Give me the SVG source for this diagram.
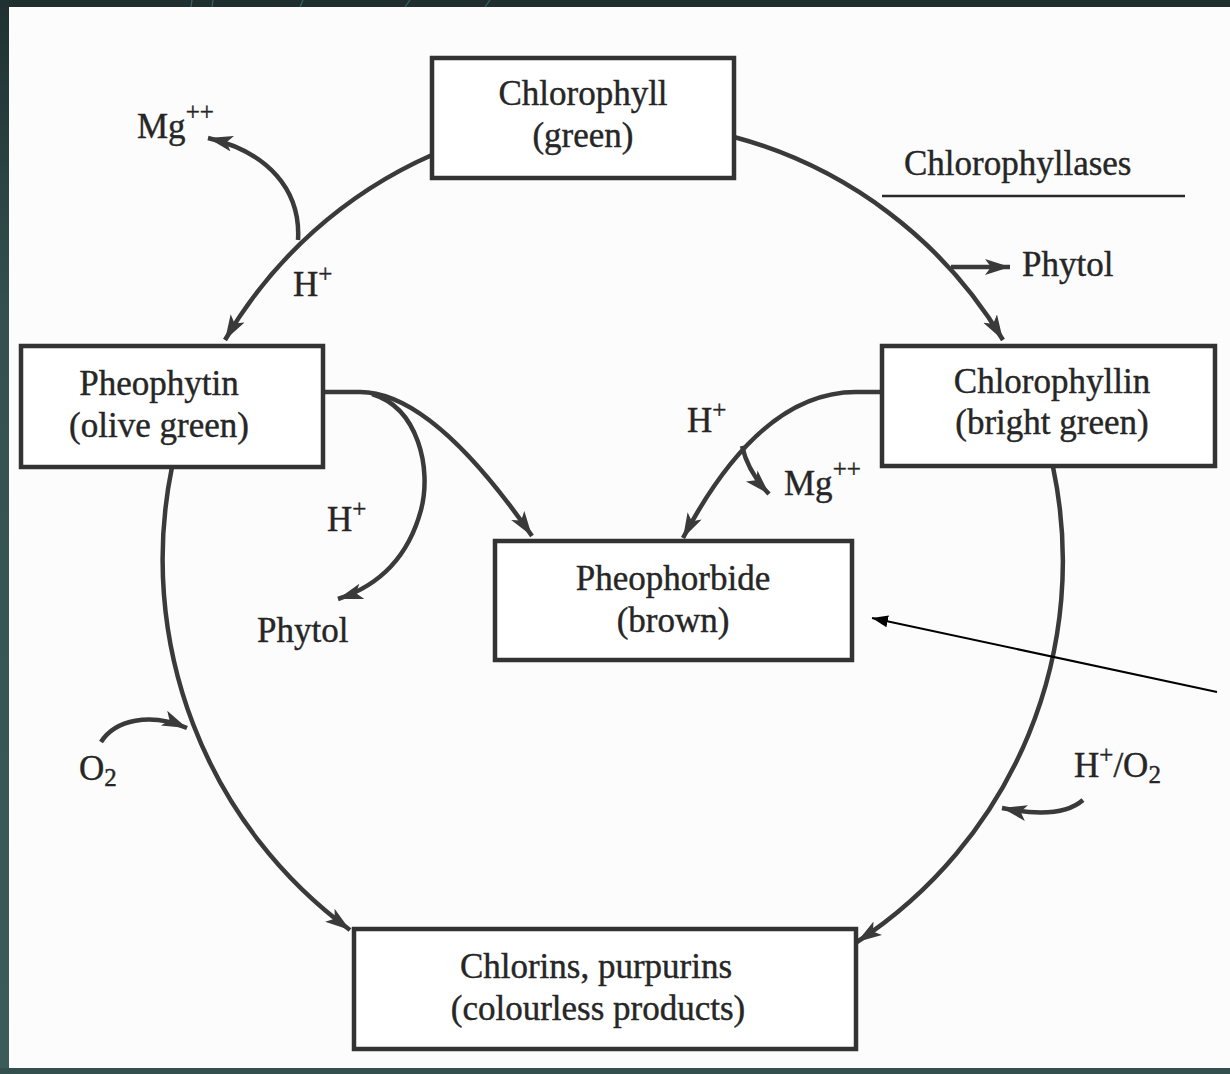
<svg xmlns="http://www.w3.org/2000/svg" width="1230" height="1074" viewBox="0 0 1230 1074">
  <defs>
    <marker id="ah" markerUnits="userSpaceOnUse" markerWidth="28" markerHeight="18" refX="25" refY="8" orient="auto">
      <path d="M0,0 L25,8 L0,16 L6,8 Z" fill="#3a3a3a"/>
    </marker>
    <marker id="ahs" markerUnits="userSpaceOnUse" markerWidth="18" markerHeight="14" refX="16" refY="6" orient="auto">
      <path d="M0,0 L16,6 L0,12 Z" fill="#000"/>
    </marker>
    <linearGradient id="side" x1="0" y1="0" x2="0" y2="1">
      <stop offset="0" stop-color="#1f3132"/>
      <stop offset="0.3" stop-color="#34514f"/>
      <stop offset="1" stop-color="#3b5b5a"/>
    </linearGradient>
    <style>
      .box { fill: #ffffff; stroke: #333333; stroke-width: 4.5; }
      .lbl { font-family: "Liberation Serif", "DejaVu Serif", serif; font-size: 35px; fill: #262626; stroke: #262626; stroke-width: 0.4; }
      .sup { font-size: 25px; }
      .con { fill: none; stroke: #3a3a3a; stroke-width: 4.5; }
      .deco { fill: none; stroke: #3f7f7a; stroke-width: 1.2; opacity: 0.7; }
    </style>
  </defs>

  <!-- background -->
  <rect x="0" y="0" width="1230" height="1074" fill="#fcfcfc"/>
  <rect x="0" y="0" width="1230" height="7" fill="#1f2f30"/>
  <rect x="0" y="0" width="9" height="1074" fill="url(#side)"/>
  <rect x="0" y="1068" width="1230" height="6" fill="#33504f"/>
  <path class="deco" d="M191,7 L192,0 M212,7 L213,0 M300,7 L303,0 M405,7 L410,0 M485,7 L490,0"/>

  <!-- connectors -->
  <g id="connectors">
    <path class="con" d="M432,155 A450,450 0 0,0 225,340" marker-end="url(#ah)"/>
    <path class="con" d="M298,240 C301,190 268,152 208,138" marker-end="url(#ah)"/>
    <path class="con" d="M734,137 A450,450 0 0,1 1003,340" marker-end="url(#ah)"/>
    <path class="con" d="M951,267 L1010,267" marker-end="url(#ah)"/>
    <line x1="882" y1="196" x2="1185" y2="196" stroke="#2a2a2a" stroke-width="2.5"/>
    <path class="con" d="M172,467 A460,460 0 0,0 350,930" marker-end="url(#ah)"/>
    <path class="con" d="M101,742 C115,720 150,712 187,728" marker-end="url(#ah)"/>
    <path class="con" d="M1053,467 A455,455 0 0,1 857,942" marker-end="url(#ah)"/>
    <path class="con" d="M1083,800 C1066,815 1036,815 1002,808" marker-end="url(#ah)"/>
    <path class="con" d="M322,392 L360,392 Q432,392 532,536" marker-end="url(#ah)"/>
    <path class="con" d="M372,394 C418,408 432,468 421,510 C408,558 378,586 338,599" marker-end="url(#ah)"/>
    <path class="con" d="M882,392 L856,392 Q760,392 683,538" marker-end="url(#ah)"/>
    <path class="con" d="M742,446 Q748,472 769,494" marker-end="url(#ah)"/>
    <line x1="1217" y1="692" x2="872" y2="618" stroke="#000" stroke-width="2" marker-end="url(#ahs)"/>
  </g>

  <!-- nodes -->
  <g id="chlorophyll">
    <rect class="box" x="432" y="58" width="302" height="120"/>
    <text class="lbl" x="583" y="105" text-anchor="middle">Chlorophyll</text>
    <text class="lbl" x="583" y="147" text-anchor="middle">(green)</text>
  </g>
  <g id="pheophytin">
    <rect class="box" x="21" y="346" width="302" height="121"/>
    <text class="lbl" x="159" y="395" text-anchor="middle">Pheophytin</text>
    <text class="lbl" x="159" y="437" text-anchor="middle">(olive green)</text>
  </g>
  <g id="chlorophyllin">
    <rect class="box" x="882" y="346" width="333" height="120"/>
    <text class="lbl" x="1052" y="393" text-anchor="middle">Chlorophyllin</text>
    <text class="lbl" x="1052" y="434" text-anchor="middle">(bright green)</text>
  </g>
  <g id="pheophorbide">
    <rect class="box" x="495" y="541" width="357" height="119"/>
    <text class="lbl" x="673" y="590" text-anchor="middle">Pheophorbide</text>
    <text class="lbl" x="673" y="632" text-anchor="middle">(brown)</text>
  </g>
  <g id="chlorins">
    <rect class="box" x="354" y="929" width="502" height="120"/>
    <text class="lbl" x="596" y="978" text-anchor="middle">Chlorins, purpurins</text>
    <text class="lbl" x="598" y="1020" text-anchor="middle">(colourless products)</text>
  </g>

  <!-- labels -->
  <g id="labels">
    <text class="lbl" x="137" y="138">Mg<tspan class="sup" dy="-18">++</tspan></text>
    <text class="lbl" x="293" y="296">H<tspan class="sup" dy="-14">+</tspan></text>
    <text class="lbl" x="904" y="175">Chlorophyllases</text>
    <text class="lbl" x="1022" y="276">Phytol</text>
    <text class="lbl" x="687" y="432">H<tspan class="sup" dy="-14">+</tspan></text>
    <text class="lbl" x="784" y="495">Mg<tspan class="sup" dy="-18">++</tspan></text>
    <text class="lbl" x="327" y="531">H<tspan class="sup" dy="-14">+</tspan></text>
    <text class="lbl" x="257" y="642">Phytol</text>
    <text class="lbl" x="79" y="780">O<tspan class="sup" dy="6">2</tspan></text>
    <text class="lbl" x="1074" y="777">H<tspan class="sup" dy="-14">+</tspan><tspan dy="14">/O</tspan><tspan class="sup" dy="6">2</tspan></text>
  </g>
</svg>
